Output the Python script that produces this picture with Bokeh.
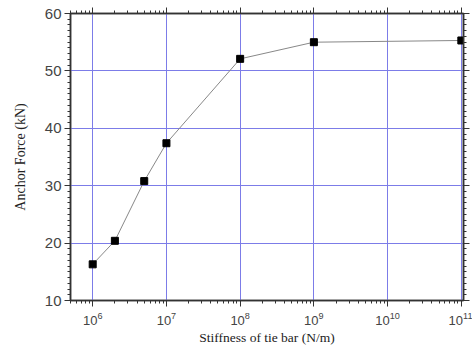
from bokeh.plotting import figure
from bokeh.models import LogAxis, LinearAxis, FixedTicker, Range1d
from bokeh.embed import file_html
from bokeh.resources import INLINE

stiffness = [1e6, 2e6, 5e6, 1e7, 1e8, 1e9, 1e11]
anchor_force = [16.3, 20.4, 30.8, 37.4, 52.1, 55.0, 55.3]
x_major = [1e6, 1e7, 1e8, 1e9, 1e10, 1e11]
y_major = [10, 20, 30, 40, 50, 60]

x_minor = [m * 10 ** e for e in range(5, 12) for m in range(2, 10)]
x_minor = [v for v in x_minor if 5.0e5 <= v <= 1.07e11]
y_minor = [v for v in range(10, 61) if v % 10 != 0]

p = figure(width=472, height=349, output_backend="svg", toolbar_location=None,
           x_axis_type="log", x_range=Range1d(5.0e5, 1.07e11), y_range=Range1d(10, 60),
           min_border_left=70, min_border_right=9, min_border_top=13, min_border_bottom=49)
p.background_fill_color = "white"
p.border_fill_color = "white"
p.outline_line_color = "#333333"
p.outline_line_width = 1.5

xt = FixedTicker(ticks=x_major, minor_ticks=x_minor)
yt = FixedTicker(ticks=y_major, minor_ticks=y_minor)

p.xaxis.ticker = xt
p.yaxis.ticker = yt
p.xgrid.ticker = xt
p.ygrid.ticker = yt
for g in (p.xgrid, p.ygrid):
    g.grid_line_color = "#7c7ce8"
    g.grid_line_width = 1

def style(ax, labels=True):
    ax.axis_line_color = "#333333"
    ax.axis_line_width = 1.5
    ax.major_tick_line_color = "#333333"
    ax.minor_tick_line_color = "#333333"
    ax.major_tick_out = 6
    ax.major_tick_in = 0
    ax.minor_tick_out = 3
    ax.minor_tick_in = 0
    ax.major_label_text_font = "Liberation Sans"
    ax.major_label_text_font_size = "13px" if labels else "1px"
    ax.major_label_text_color = "#444444"
    if not labels:
        ax.major_label_text_alpha = 0
    ax.axis_label_text_font = "Liberation Serif"
    ax.axis_label_text_font_size = "14px"
    ax.axis_label_text_font_style = "normal"
    ax.axis_label_text_color = "#222222"

style(p.xaxis[0])
style(p.yaxis[0])
p.yaxis.major_label_text_font_size = "15px"
p.yaxis.major_label_standoff = 3
p.xaxis.axis_label = "Stiffness of tie bar (N/m)"
p.yaxis.axis_label = "Anchor Force (kN)"
p.xaxis.axis_label_text_font_size = "13.5px"
p.xaxis.axis_label_standoff = 2
p.yaxis.axis_label_standoff = 14

top = LogAxis(ticker=xt)
style(top, labels=False)
top.major_label_standoff = 0
p.add_layout(top, "above")
right = LinearAxis(ticker=yt)
style(right, labels=False)
right.major_label_standoff = 0
p.add_layout(right, "right")

p.line(stiffness, anchor_force, line_color="#888888", line_width=1)
p.scatter(stiffness, anchor_force, marker="square", size=7, fill_color="black", line_color="black")

open("out.html", "w").write(file_html(p, INLINE))
